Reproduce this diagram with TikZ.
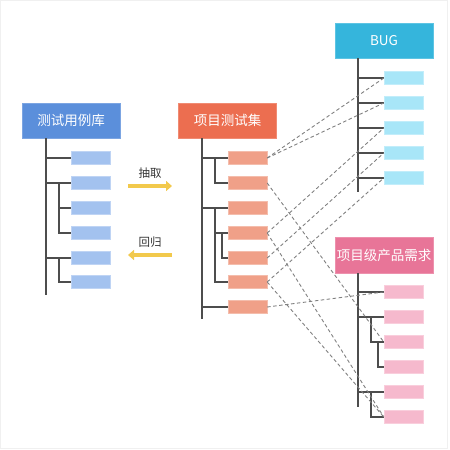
\documentclass[tikz,border=0pt]{standalone}
\usepackage{fontspec}
\setmainfont{Noto Sans CJK SC}
\usetikzlibrary{arrows.meta}
\definecolor{hblue}{HTML}{5B8FDB}
\definecolor{lblue}{HTML}{A3C2EF}
\definecolor{horange}{HTML}{EC6E50}
\definecolor{lorange}{HTML}{F0A088}
\definecolor{hcyan}{HTML}{35B5DC}
\definecolor{lcyan}{HTML}{A8E6F8}
\definecolor{hpink}{HTML}{E87598}
\definecolor{lpink}{HTML}{F6B9CD}
\definecolor{treec}{HTML}{4D4D4D}
\definecolor{arrowy}{HTML}{F2C94C}
\definecolor{txt}{HTML}{333333}
\tikzset{
  hdr/.style={inner sep=0pt, minimum width=98pt, minimum height=35pt, text=white, font=\fontsize{13.5}{15}\selectfont},
  leaf/.style={inner sep=0pt, minimum width=39pt, minimum height=13pt},
  tree/.style={draw=treec, line width=1.5pt},
  dsh/.style={draw=gray, line width=0.9pt, dash pattern=on 3.5pt off 2.5pt},
  yarrow/.style={draw=arrowy, line width=4pt, -{Triangle[length=6pt,width=10pt]}},
  lbl/.style={text=txt, font=\fontsize{11.5}{13}\selectfont}
}
\begin{document}
\begin{tikzpicture}[x=1pt,y=-1pt]
\useasboundingbox (0,0) rectangle (450,450);
\draw[black!6, line width=0.8pt] (0.5,0.5) rectangle (447.5,448);

% headers
\node[hdr, fill=hblue, draw=hblue!80!white] (hL) at (71,120.5) {测试用例库};
\node[hdr, fill=horange, draw=horange!80!white] (hM) at (227.5,120.5) {项目测试集};
\node[hdr, fill=hcyan, draw=hcyan!80!white] (hB) at (384,40.5) {BUG};
\node[hdr, fill=hpink, draw=hpink!80!white, minimum height=36pt] (hP) at (384,255) {项目级产品需求};

% left leaves
\foreach \i/\y in {1/158,2/183,3/208,4/233,5/258,6/282}
  \node[leaf, fill=lblue, draw=lblue!70!white] (l\i) at (91,\y) {};
% middle leaves
\foreach \i/\y in {1/158,2/183,3/208,4/233,5/258,6/282,7/307}
  \node[leaf, fill=lorange, draw=lorange!70!white] (m\i) at (247.5,\y) {};
% bug leaves
\foreach \i/\y in {1/78,2/103,3/128,4/153,5/178}
  \node[leaf, fill=lcyan, draw=lcyan!70!white] (b\i) at (403.5,\y) {};
% pink leaves
\foreach \i/\y in {1/292,2/317,3/342,4/367,5/392,6/417}
  \node[leaf, fill=lpink, draw=lpink!70!white] (p\i) at (403.5,\y) {};

% left tree
\coordinate (lt) at (46,295);
\coordinate (ls) at (59,0);
\draw[tree] (lt |- hL.south) -- (lt);
\foreach \i in {1,2,5} \draw[tree] (lt |- l\i) -- (l\i.west);
\draw[tree] (ls |- l2) -- (ls |- l4) -- (l4.west);
\draw[tree] (ls |- l3) -- (l3.west);
\draw[tree] (ls |- l5) -- (ls |- l6) -- (l6.west);

% middle tree
\coordinate (mt) at (202,319);
\coordinate (ms) at (215,0);
\coordinate (mu) at (222,0);
\draw[tree] (mt |- hM.south) -- (mt);
\foreach \i in {1,3,7} \draw[tree] (mt |- m\i) -- (m\i.west);
\draw[tree] (ms |- m1) -- (ms |- m2) -- (m2.west);
\draw[tree] (ms |- m3) -- (ms |- m6) -- (m6.west);
\draw[tree] (ms |- m4) -- (m4.west);
\draw[tree] (mu |- m4) -- (mu |- m5) -- (m5.west);

% bug tree
\coordinate (bt) at (358,192);
\draw[tree] (bt |- hB.south) -- (bt);
\foreach \i in {1,...,5} \draw[tree] (bt |- b\i) -- (b\i.west);

% pink tree
\coordinate (pt) at (358,407);
\coordinate (ps) at (371,0);
\coordinate (pu) at (378,0);
\draw[tree] (pt |- hP.south) -- (pt);
\foreach \i in {1,2,5} \draw[tree] (pt |- p\i) -- (p\i.west);
\draw[tree] (ps |- p2) -- (ps |- p3) -- (p3.west);
\draw[tree] (pu |- p3) -- (pu |- p4) -- (p4.west);
\draw[tree] (ps |- p5) -- (ps |- p6) -- (p6.west);

% dashed links
\draw[dsh] (m1.east) -- (b1.west);
\draw[dsh] (m1.east) -- (b2.west);
\draw[dsh] (m4.east) -- (b3.west);
\draw[dsh] (m5.east) -- (b4.west);
\draw[dsh] (m6.east) -- (b5.west);
\draw[dsh] (m2.east) -- (p3.west);
\draw[dsh] (m4.east) -- (p6.west);
\draw[dsh] (m6.east) -- (p6.west);
\draw[dsh] (m7.east) -- (p1.west);

% arrows
\coordinate (a1s) at (128,186);
\coordinate (a1e) at (172,186);
\coordinate (a2s) at (172,255);
\coordinate (a2e) at (128,255);
\draw[yarrow] (a1s) -- (a1e);
\draw[yarrow] (a2s) -- (a2e);
\node[lbl] (t1) at (150,173) {抽取};
\node[lbl] (t2) at (150,242) {回归};
\end{tikzpicture}
\end{document}
